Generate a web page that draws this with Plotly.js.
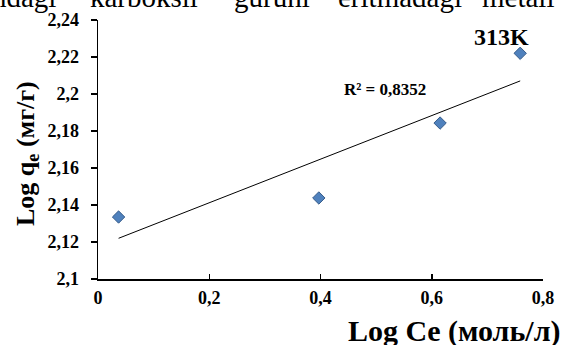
<!DOCTYPE html>
<html>
<head>
<meta charset="utf-8">
<script src="https://cdn.plot.ly/plotly-3.0.1.min.js"></script>
<style>
html,body{margin:0;padding:0;background:#fff;}
#chart{width:561px;height:345px;}
</style>
</head>
<body>
<div id="chart"></div>
<script>
// Data
const logCe = [0.037, 0.397, 0.615, 0.759];
const logQe = [2.1335, 2.1438, 2.1843, 2.2220];
const xTickVals = [0, 0.2, 0.4, 0.6, 0.8];
const xTickText = ['0', '0,2', '0,4', '0,6', '0,8'];
const yTickVals = [2.1, 2.12, 2.14, 2.16, 2.18, 2.2, 2.22, 2.24];
const yTickText = ['2,1', '2,12', '2,14', '2,16', '2,18', '2,2', '2,22', '2,24'];
const r2Text = 'R² = 0,8352';
const seriesLabel = '313K';
const xTitle = 'Log Ce (моль/л)';
const yTitle = 'Log q<sub>e</sub> (мг/г)';
const topWords = ['ndagi', 'karboksil', 'guruhi', 'eritmadagi', 'metall'];

// Linear trendline (least squares) from the data
const n = logCe.length;
const mx = logCe.reduce((a, b) => a + b, 0) / n;
const my = logQe.reduce((a, b) => a + b, 0) / n;
let sxy = 0, sxx = 0;
for (let i = 0; i < n; i++) { sxy += (logCe[i] - mx) * (logQe[i] - my); sxx += (logCe[i] - mx) ** 2; }
const slope = sxy / sxx, icpt = my - slope * mx;
const trendX = [Math.min(...logCe), Math.max(...logCe)];
const trendY = trendX.map(x => icpt + slope * x);

const M = {l: 98, r: 18, t: 20, b: 66};
const W = 561, H = 345;
const pw = W - M.l - M.r, ph = H - M.t - M.b;
const px = x => (x - M.l) / pw;
const py = y => (H - M.b - y) / ph;

const serif = "'Liberation Serif', 'Times New Roman', serif";
const bold = a => a.map(t => '<b>' + t + '</b>');

const traces = [
  {x: trendX, y: trendY, mode: 'lines', line: {color: '#000', width: 1}, hoverinfo: 'skip'},
  {x: logCe, y: logQe, mode: 'markers',
   marker: {symbol: 'diamond', size: 9.5, color: '#4F81BD', line: {color: '#385D8A', width: 1}}}
];

const topX = [24, 144, 272, 400, 518];
const annotations = topWords.map((w, i) => ({
  text: w, xref: 'paper', yref: 'paper', x: px(topX[i]), y: py(-3),
  xanchor: 'center', yanchor: 'middle', showarrow: false,
  font: {family: serif, size: 29, color: '#000'}
}));
annotations.push(
  {text: '<b>' + r2Text + '</b>', x: 0.516, y: 2.2022, xref: 'x', yref: 'y', showarrow: false,
   font: {family: serif, size: 17, color: '#000'}},
  {text: '<b>' + seriesLabel + '</b>', x: 0.725, y: 2.2308, xref: 'x', yref: 'y', showarrow: false,
   font: {family: serif, size: 24, color: '#000'}},
  {text: '<b>' + xTitle + '</b>', xref: 'paper', yref: 'paper', x: px(562), y: py(331),
   xanchor: 'right', yanchor: 'middle', showarrow: false,
   font: {family: serif, size: 30, color: '#000'}},
  {text: '<b>' + yTitle + '</b>', xref: 'paper', yref: 'paper', x: px(27), y: py(154),
   xanchor: 'center', yanchor: 'middle', textangle: -90, showarrow: false,
   font: {family: serif, size: 26, color: '#000'}}
);

const layout = {
  width: W, height: H, margin: M,
  paper_bgcolor: '#fff', plot_bgcolor: '#fff',
  font: {family: serif, color: '#000'},
  showlegend: false,
  xaxis: {range: [0, 0.8], tickvals: xTickVals, ticktext: bold(xTickText),
    showgrid: false, zeroline: false, showline: true, linecolor: '#000', linewidth: 1.5,
    ticks: 'inside', ticklen: 5, tickcolor: '#000', tickwidth: 1.5,
    tickfont: {family: serif, size: 18, color: '#000'}, ticklabelstandoff: 2},
  yaxis: {range: [2.1, 2.24], tickvals: yTickVals, ticktext: bold(yTickText),
    showgrid: false, zeroline: false, showline: true, linecolor: '#000', linewidth: 1.5,
    ticks: 'outside', ticklen: 6, tickcolor: '#000', tickwidth: 1.5,
    tickfont: {family: serif, size: 18, color: '#000'}, ticklabelstandoff: 8},
  annotations: annotations
};

Plotly.newPlot('chart', traces, layout, {displayModeBar: false, staticPlot: true});
</script>
</body>
</html>
